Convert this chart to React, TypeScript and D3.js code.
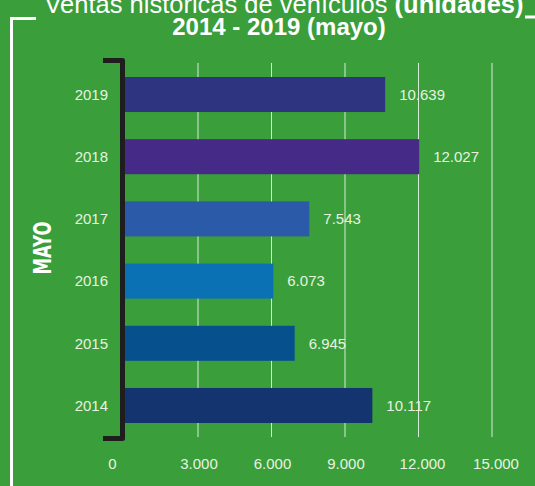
import React, {useEffect, useRef} from 'react';
import * as d3 from 'd3';

// chart data (mayo de cada año)
const years = ['2019', '2018', '2017', '2016', '2015', '2014'];
const units = [10639, 12027, 7543, 6073, 6945, 10117];
const barColors = ['#2e3480', '#452a88', '#2a5aa8', '#0a72b4', '#06508e', '#13346e'];
const xTicks = [0, 3000, 6000, 9000, 12000, 15000];

const W = 535;
const H = 486;
const BG = '#3a9e3a';
const TXT = '#e6f3e0';

const fmt = (v: number) => d3.format(',')(v).replace(/,/g, '.');

const App: React.FC = () => {
  const ref = useRef<SVGSVGElement>(null);

  useEffect(() => {
    const svg = d3.select(ref.current);
    svg.selectAll('*').remove();

    svg.append('rect').attr('width', W).attr('height', H).attr('fill', BG);

    const x = d3.scaleLinear([0, 15000], [124.5, 492]);
    const y = d3.scaleBand<string>(years, [63, 437]).paddingInner(0.437).paddingOuter(0.225);

    // white frame pieces
    svg.append('path')
      .attr('d', 'M36,18.5 H11.5 V486')
      .attr('fill', 'none').attr('stroke', '#fff').attr('stroke-width', 3);
    svg.append('line')
      .attr('x1', 525).attr('x2', 535).attr('y1', 17).attr('y2', 17)
      .attr('stroke', '#fff').attr('stroke-width', 3);

    // title (first line is cut at the top in the original too)
    const t1 = svg.append('text')
      .attr('x', 284).attr('y', 13)
      .attr('text-anchor', 'middle')
      .attr('fill', '#fff')
      .attr('font-family', '"Liberation Sans", Arial, sans-serif')
      .attr('font-size', 25.5);
    t1.append('tspan').text('Ventas históricas de vehículos ');
    t1.append('tspan').attr('font-weight', 'bold').text('(unidades)');

    svg.append('text')
      .attr('x', 279).attr('y', 35)
      .attr('text-anchor', 'middle')
      .attr('fill', '#fff')
      .attr('font-family', '"Liberation Sans", Arial, sans-serif')
      .attr('font-weight', 'bold')
      .attr('font-size', 24)
      .text('2014 - 2019 (mayo)');

    // gridlines
    svg.append('g')
      .selectAll('line')
      .data(xTicks.slice(1))
      .join('line')
      .attr('x1', d => x(d)).attr('x2', d => x(d))
      .attr('y1', 63).attr('y2', 437)
      .attr('stroke', '#fff')
      .attr('stroke-opacity', 0.8)
      .attr('stroke-width', 1);

    // bars
    svg.append('g')
      .selectAll('rect')
      .data(years)
      .join('rect')
      .attr('x', x(0))
      .attr('y', d => y(d)!)
      .attr('width', (d, i) => x(units[i]) - x(0))
      .attr('height', y.bandwidth())
      .attr('fill', (d, i) => barColors[i]);

    // value labels
    svg.append('g')
      .selectAll('text')
      .data(years)
      .join('text')
      .attr('x', (d, i) => x(units[i]) + 14)
      .attr('y', d => y(d)! + y.bandwidth() / 2)
      .attr('dy', '0.35em')
      .attr('fill', TXT)
      .attr('font-family', '"Liberation Sans Narrow", "Liberation Sans", Arial, sans-serif')
      .attr('font-size', 15)
      .text((d, i) => fmt(units[i]));

    // year labels
    svg.append('g')
      .selectAll('text')
      .data(years)
      .join('text')
      .attr('x', 108)
      .attr('y', d => y(d)! + y.bandwidth() / 2)
      .attr('dy', '0.35em')
      .attr('text-anchor', 'end')
      .attr('fill', TXT)
      .attr('font-family', '"Liberation Sans Narrow", "Liberation Sans", Arial, sans-serif')
      .attr('font-size', 15)
      .text(d => d);

    // black bracket
    svg.append('path')
      .attr('d', 'M103,60.5 H122.5 V438.5 H103')
      .attr('fill', 'none')
      .attr('stroke', '#1e1e1e')
      .attr('stroke-width', 5)
      .attr('stroke-linejoin', 'round');

    // x tick labels
    svg.append('g')
      .selectAll('text')
      .data(xTicks)
      .join('text')
      .attr('x', d => d === 0 ? x(d) - 12 : x(d) + (d >= 12000 ? 4 : 1))
      .attr('y', 464)
      .attr('dy', '0.35em')
      .attr('text-anchor', 'middle')
      .attr('fill', TXT)
      .attr('font-family', '"Liberation Sans Narrow", "Liberation Sans", Arial, sans-serif')
      .attr('font-size', 15)
      .text(d => fmt(d));

    // rotated MAYO
    svg.append('text')
      .attr('transform', 'translate(42,248) rotate(-90)')
      .attr('text-anchor', 'middle')
      .attr('dy', '0.35em')
      .attr('fill', '#fff')
      .attr('font-family', '"Liberation Sans Narrow", "DejaVu Sans Condensed", sans-serif')
      .attr('font-weight', 'bold')
      .attr('font-size', 25)
      .attr('textLength', 53)
      .attr('lengthAdjust', 'spacingAndGlyphs')
      .text('MAYO');
  }, []);

  return <svg ref={ref} width={W} height={H}
              style={{position: 'absolute', left: 0, top: 0, display: 'block'}}/>;
};

export default App;
